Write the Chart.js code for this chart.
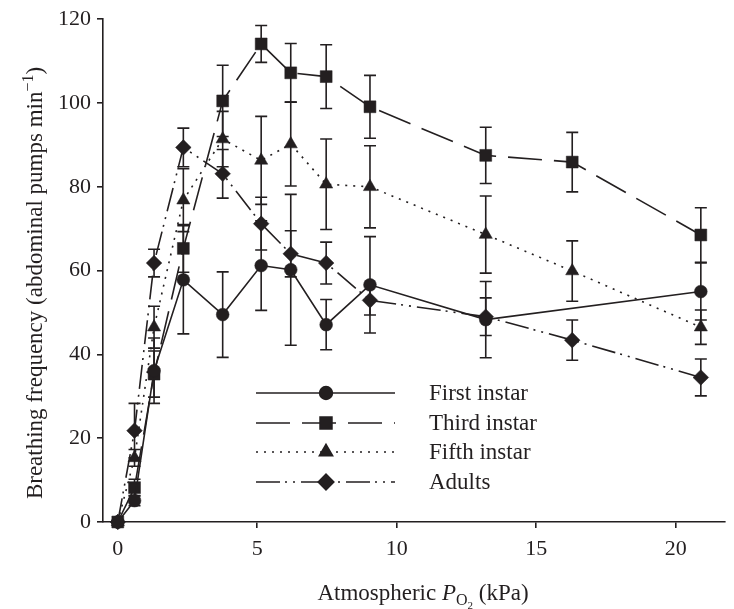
<!DOCTYPE html>
<html>
<head>
<meta charset="utf-8">
<script src="https://cdn.jsdelivr.net/npm/chart.js@4.4.1/dist/chart.umd.min.js"></script>
<style>
  html, body { margin: 0; padding: 0; background: #ffffff; }
  #wrap { position: relative; width: 734px; height: 609px; }
</style>
</head>
<body>
<div id="wrap"><canvas id="c" width="734" height="609"></canvas></div>
<script>
// ---------------- data ----------------
const xFirst = [0, 0.6, 1.3, 2.35, 3.76, 5.14, 6.2, 7.47, 9.04, 13.19, 20.9];
const yFirst = [0, 5.1, 36.1, 57.8, 49.5, 61.2, 60.2, 47.1, 56.6, 48.3, 55.0];
const eFirst = [0, 1.2, 7.8, 12.9, 10.2, 10.7, 18.0, 6.0, 11.5, 9.1, 6.8];

const xAll = [0, 0.6, 1.3, 2.35, 3.76, 5.14, 6.2, 7.47, 9.04, 13.19, 16.29, 20.9];
const yThird = [0, 8.2, 35.3, 65.3, 100.5, 114.1, 107.2, 106.3, 99.1, 87.5, 85.9, 68.5];
const eThird = [0, 2.0, 5.5, 5.7, 8.5, 4.4, 7.0, 7.6, 7.5, 6.7, 7.1, 6.5];

const yFifth = [0, 15.3, 46.5, 76.8, 91.4, 86.3, 90.2, 80.6, 80.0, 68.6, 59.9, 46.5];
const eFifth = [0, 2.0, 5.0, 7.5, 6.6, 10.5, 10.0, 10.8, 9.8, 9.2, 7.2, 4.1];

const yAdult = [0, 21.8, 61.8, 89.4, 83.1, 71.2, 64.0, 61.8, 52.9, 49.0, 43.4, 34.5];
const eAdult = [0, 6.5, 3.3, 4.6, 5.8, 6.3, 5.5, 5.0, 3.5, 4.5, 4.8, 4.4];

const seriesLabels = ['First instar', 'Third instar', 'Fifth instar', 'Adults'];
const xTickValues = [0, 5, 10, 15, 20];
const yTickValues = [0, 20, 40, 60, 80, 100, 120];

// ---------------- style ----------------
const INK = '#231f20';
const SERIF = '"Liberation Serif", "Times New Roman", serif';
const LW = 1.6;

function pts(xs, ys) { return xs.map((v, i) => ({ x: v, y: ys[i] })); }

const styles = [
  { pointStyle: 'circle',   radius: 6.4, dash: [] },
  { pointStyle: 'rect',     radius: 8.4, dash: [34, 12] },
  { pointStyle: 'triangle', radius: 7.6, dash: [2, 6] },
  { pointStyle: 'rectRot',  radius: 7.8, dash: [24, 5, 2, 6, 2, 6] }
];
const seriesData = [pts(xFirst, yFirst), pts(xAll, yThird), pts(xAll, yFifth), pts(xAll, yAdult)];
const seriesErr = [eFirst, eThird, eFifth, eAdult];

const datasets = seriesLabels.map((lab, i) => ({
  label: lab,
  data: seriesData[i],
  errors: seriesErr[i],
  borderColor: INK,
  backgroundColor: INK,
  borderWidth: LW,
  borderDash: styles[i].dash,
  pointStyle: styles[i].pointStyle,
  pointRadius: styles[i].radius,
  pointBorderWidth: 0.5,
  pointBackgroundColor: INK,
  pointBorderColor: INK,
  pointHoverRadius: styles[i].radius,
  tension: 0,
  clip: false,
  showLine: true
}));

// ---------------- plugins ----------------
const errorBars = {
  id: 'errorBars',
  beforeDatasetsDraw(chart) {
    const { ctx, scales: { x, y } } = chart;
    ctx.save();
    ctx.strokeStyle = INK;
    ctx.lineWidth = LW;
    ctx.setLineDash([]);
    chart.data.datasets.forEach(ds => {
      ds.data.forEach((p, i) => {
        const e = ds.errors[i];
        if (!e) return;
        const px = x.getPixelForValue(p.x);
        const t = y.getPixelForValue(p.y + e);
        const b = y.getPixelForValue(p.y - e);
        const cw = 6;
        ctx.beginPath();
        ctx.moveTo(px, t); ctx.lineTo(px, b);
        ctx.moveTo(px - cw, t); ctx.lineTo(px + cw, t);
        ctx.moveTo(px - cw, b); ctx.lineTo(px + cw, b);
        ctx.stroke();
      });
    });
    ctx.restore();
  }
};

const legendBox = { x1: 256, x2: 395, marker: 326, text: 429, rows: [393, 423, 452, 482] };

const customLegend = {
  id: 'customLegend',
  afterDraw(chart) {
    const { ctx } = chart;
    ctx.save();
    chart.data.datasets.forEach((ds, i) => {
      const yy = legendBox.rows[i];
      ctx.strokeStyle = INK;
      ctx.lineWidth = LW;
      ctx.setLineDash(ds.borderDash);
      ctx.beginPath();
      ctx.moveTo(legendBox.x1, yy);
      ctx.lineTo(legendBox.x2, yy);
      ctx.stroke();
      ctx.setLineDash([]);
      ctx.fillStyle = INK;
      Chart.helpers.drawPoint(ctx, {
        pointStyle: ds.pointStyle, radius: ds.pointRadius, borderWidth: 0.5, rotation: 0
      }, legendBox.marker, yy);
      ctx.fill();
      ctx.font = '23px ' + SERIF;
      ctx.textAlign = 'left';
      ctx.textBaseline = 'middle';
      ctx.fillText(ds.label, legendBox.text, yy + 1);
    });
    ctx.restore();
  }
};

const axisTitles = {
  id: 'axisTitles',
  afterDraw(chart) {
    const { ctx } = chart;
    ctx.save();
    ctx.fillStyle = INK;
    ctx.textBaseline = 'alphabetic';
    ctx.textAlign = 'left';
    // x title: Atmospheric P_O2 (kPa)
    const fReg = '23px ' + SERIF, fIt = 'italic 23px ' + SERIF, fSub = '16px ' + SERIF, fSub2 = '11px ' + SERIF;
    const parts = [
      { t: 'Atmospheric ', f: fReg, dy: 0 },
      { t: 'P', f: fIt, dy: 0 },
      { t: 'O', f: fSub, dy: 5 },
      { t: '2', f: fSub2, dy: 9 },
      { t: ' (kPa)', f: fReg, dy: 0 }
    ];
    let w = 0;
    parts.forEach(p => { ctx.font = p.f; p.w = ctx.measureText(p.t).width; w += p.w; });
    let cx = 423 - w / 2;
    const base = 600;
    parts.forEach(p => { ctx.font = p.f; ctx.fillText(p.t, cx, base + p.dy); cx += p.w; });

    // y title (rotated)
    ctx.translate(42, 283);
    ctx.rotate(-Math.PI / 2);
    const yparts = [
      { t: 'Breathing frequency (abdominal pumps min', f: fReg, dy: 0 },
      { t: '\u22121', f: fSub, dy: -9 },
      { t: ')', f: fReg, dy: 0 }
    ];
    let yw = 0;
    yparts.forEach(p => { ctx.font = p.f; p.w = ctx.measureText(p.t).width; yw += p.w; });
    let sx = -yw / 2;
    yparts.forEach(p => { ctx.font = p.f; ctx.fillText(p.t, sx, p.dy); sx += p.w; });
    ctx.restore();
  }
};

// ---------------- chart ----------------
new Chart(document.getElementById('c'), {
  type: 'scatter',
  data: { datasets },
  options: {
    responsive: false,
    animation: false,
    devicePixelRatio: 1,
    layout: { padding: { left: 0, top: 16, right: 1, bottom: 0 } },
    plugins: { legend: { display: false }, tooltip: { enabled: false } },
    scales: {
      x: {
        type: 'linear',
        min: -0.53,
        max: 21.77,
        afterBuildTicks: s => { s.ticks = xTickValues.map(v => ({ value: v })); },
        afterFit: s => { s.height = 87; },
        grid: { display: true, drawOnChartArea: false, drawTicks: true, tickLength: 6, color: INK, lineWidth: LW },
        border: { display: true, color: INK, width: LW },
        ticks: { color: INK, font: { family: SERIF, size: 22 }, padding: 8, maxRotation: 0 }
      },
      y: {
        type: 'linear',
        min: 0,
        max: 120,
        afterBuildTicks: s => { s.ticks = yTickValues.map(v => ({ value: v })); },
        afterFit: s => { s.width = 103; },
        grid: { display: true, drawOnChartArea: false, drawTicks: true, tickLength: 6, color: INK, lineWidth: LW },
        border: { display: true, color: INK, width: LW },
        ticks: { color: INK, font: { family: SERIF, size: 22 }, padding: 6 }
      }
    }
  },
  plugins: [errorBars, customLegend, axisTitles]
});
</script>
</body>
</html>
